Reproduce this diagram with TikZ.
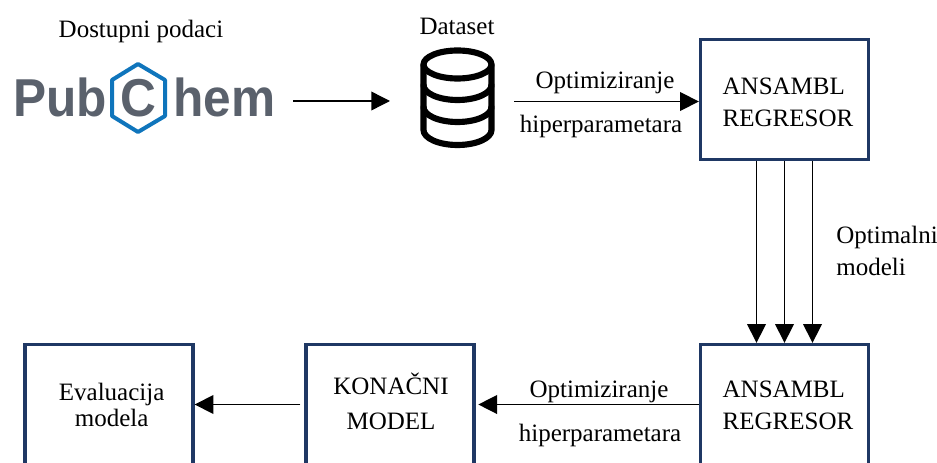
\documentclass[tikz,border=0pt]{standalone}
\usepackage{fontspec}
\setmainfont{Liberation Serif}
\newfontfamily\logofont{Liberation Sans}
\usetikzlibrary{arrows.meta}
\definecolor{boxblue}{HTML}{1F3864}
\definecolor{logogray}{HTML}{5A616C}
\definecolor{logoblue}{HTML}{0F75BC}
\tikzstyle{block}=[draw=boxblue, line width=2.5pt, minimum width=126pt, minimum height=90pt, inner sep=0pt]
\tikzstyle{caption}=[inner sep=0pt, align=center]
\tikzstyle{logotext}=[inner sep=0pt, text=logogray, font=\logofont\bfseries\fontsize{40}{40}\selectfont, xscale=0.93]
\tikzstyle{flow}=[line width=1.05pt, -{Triangle[length=14pt, width=14pt]}]
\tikzstyle{dbline}=[line width=4.6pt, line cap=round, line join=round]
\begin{document}
\begin{tikzpicture}[x=0.75pt, y=-0.75pt, font=\fontsize{18.75}{24}\selectfont]
        \useasboundingbox (0, 0) rectangle (937, 463);
        \clip (0, 0) rectangle (937, 463);
        \node[caption] (source) at (141, 31) {Dostupni podaci};
        \node[caption] (dataset) at (457, 26) {Dataset};
        \node[logotext, anchor=base west] (pub) at (13, 117) {Pub};
        \node[logotext, anchor=base] (chemc) at (138, 117) {C};
        \node[logotext, anchor=base west] (hem) at (173, 117) {hem};
        \draw[draw=logoblue, line width=3pt, line join=round] (138, 64) -- (165, 80) -- (165, 116) -- (138, 132) -- (112, 116) -- (112, 80) -- cycle;
        \draw[dbline] (457.5, 64.5) ellipse [x radius=34, y radius=14];
        \draw[dbline] (423.5, 64.5) -- (423.5, 130) arc [start angle=180, end angle=0, x radius=34, y radius=15] -- (491.5, 64.5);
        \draw[dbline] (423.5, 85) arc [start angle=180, end angle=0, x radius=34, y radius=15];
        \draw[dbline] (423.5, 107) arc [start angle=180, end angle=0, x radius=34, y radius=15];
        \node[block, label={[caption, align=left, xshift=2.6pt, yshift=-2.25pt]center:ANSAMBL\\REGRESOR}] (ensemble) at (784.5, 99.5) {};
        \node[block, label={[caption, align=left, xshift=2.6pt, yshift=-0.5pt]center:ANSAMBL\\REGRESOR}] (ensemblelow) at (784.5, 404.5) {};
        \node[block, label={[caption, xshift=0.75pt, yshift=2.2pt]center:KONAČNI\\[2pt]MODEL}] (final) at (390, 404.5) {};
        \node[block, label={[caption, xshift=2pt, yshift=-0.4pt]center:Evaluacija\\[-4.5pt]modela}] (evaluation) at (109, 404.5) {};
        \coordinate (logoout) at (293, 101);
        \coordinate (dbin) at (390, 101);
        \coordinate (dbout) at (514, 101.5);
        \draw[flow] (logoout) -- (dbin);
        \draw[flow] (dbout) -- (dbout -| ensemble.west);
        \draw[flow] ([xshift=-21pt]ensemble.south) -- ([xshift=-21pt]ensemblelow.north);
        \draw[flow] (ensemble.south) -- (ensemblelow.north);
        \draw[flow] ([xshift=21pt]ensemble.south) -- ([xshift=21pt]ensemblelow.north);
        \draw[flow, shorten >=2pt] (ensemblelow.west) -- (final.east);
        \draw[flow, shorten <=3pt] (final.west) -- (evaluation.east);
        \node[caption] (optupper) at (605, 83) {Optimiziranje};
        \node[caption] (hyperupper) at (601, 126.5) {hiperparametara};
        \node[caption] (optlower) at (599, 391.5) {Optimiziranje};
        \node[caption] (hyperlower) at (600, 435) {hiperparametara};
        \node[caption, align=left] (optimal) at (887, 251) {Optimalni\\modeli};
    \end{tikzpicture}
\end{document}
